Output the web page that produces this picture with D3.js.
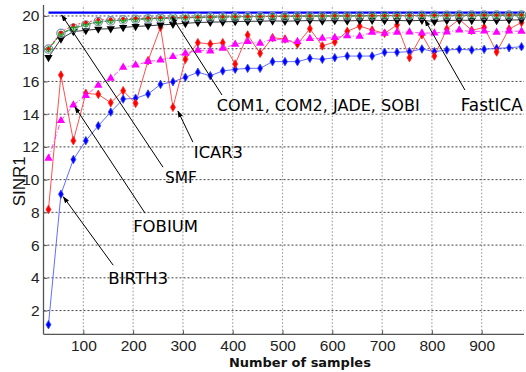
<!DOCTYPE html>
<html><head><meta charset="utf-8">
<script src="https://cdn.jsdelivr.net/npm/d3@7"></script>
<style>
html,body{margin:0;padding:0;background:#fff;}
svg{display:block;}
</style></head>
<body>
<svg id="chart" width="526" height="372"></svg>
<script>
// ---------------- DATA ----------------
const samples = [30,55,80,105,130,155,180,205,230,255,280,305,330,355,380,405,430,455,480,505,530,555,580,605,630,655,680,705,730,755,780,805,830,855,880,905,930,955,980];
const birth3 = [1.14,9.11,11.23,12.38,13.29,14.13,14.92,14.97,15.23,15.82,15.98,16.25,16.56,16.35,16.64,16.74,16.8,16.8,17.21,17.21,17.21,17.41,17.35,17.45,17.55,17.55,17.55,17.78,17.78,17.82,17.98,17.82,17.92,17.96,17.92,17.96,18.02,18.06,18.12];
const icar3 = [8.18,16.39,12.38,15.27,15.21,14.70,15.43,14.66,17.27,19.31,14.42,17.35,18.37,18.29,18.37,17.06,18.84,17.72,18.67,18.59,18.28,19.22,18.17,18.41,19.06,19.38,19.14,18.94,19.45,17.45,18.85,17.55,19.2,19.8,19.12,19.3,17.8,19.2,19.6];
const smf = [11.3,13.6,14.56,15.13,15.76,16.19,16.86,17.0,17.21,17.31,17.51,17.72,17.9,17.86,18.02,18.27,18.43,18.33,18.6,18.52,18.43,18.62,18.64,18.68,18.78,18.75,19.0,18.94,19.0,19.02,18.95,18.96,19.02,19.14,19.04,19.08,19.0,19.08,19.06];
const fastica = [17.47,18.6,19.05,19.12,19.2,19.22,19.3,19.36,19.4,19.45,19.5,19.55,19.6,19.62,19.64,19.66,19.67,19.68,19.7,19.68,19.7,19.72,19.7,19.72,19.7,19.72,19.74,19.72,19.73,19.7,19.74,19.66,19.72,19.74,19.73,19.74,19.72,19.75,19.76];
const com1 = [17.98,18.94,19.25,19.45,19.66,19.7,19.76,19.8,19.83,19.86,19.88,19.9,19.92,19.93,19.94,19.95,19.96,19.97,19.98,19.98,19.99,20.0,20.0,20.01,20.01,20.02,20.02,20.03,20.03,20.03,20.04,20.04,20.04,20.05,20.05,20.05,20.05,20.06,20.06];
const com2 = [17.96,18.9,19.3,19.5,19.62,19.72,19.74,19.82,19.84,19.85,19.87,19.9,19.91,19.92,19.94,19.94,19.95,19.96,19.97,19.98,19.98,19.99,20.0,20.0,20.0,20.01,20.02,20.02,20.02,20.03,20.03,20.03,20.04,20.04,20.04,20.05,20.05,20.05,20.05];
const jade = [18.0,19.0,19.45,19.6,19.78,19.8,19.84,19.86,19.88,19.9,19.9,19.92,19.93,19.94,19.95,19.96,19.97,19.97,19.98,19.99,20.0,20.0,20.0,20.01,20.01,20.02,20.02,20.02,20.03,20.03,20.03,20.04,20.04,20.04,20.05,20.05,20.05,20.06,20.06];
const sobi = [17.97,18.92,19.22,19.48,19.64,19.7,19.75,19.79,19.82,19.85,19.87,19.89,19.91,19.92,19.93,19.94,19.95,19.96,19.97,19.97,19.98,19.99,19.99,20.0,20.0,20.01,20.01,20.02,20.02,20.02,20.03,20.03,20.03,20.04,20.04,20.04,20.04,20.05,20.05];
const boundX = [30, 985];
const boundY = [20.2, 20.2];
const xTicks = [100,200,300,400,500,600,700,800,900];
const yTicks = [2,4,6,8,10,12,14,16,18,20];
const xLabel = "Number of samples";
const yLabel = "SINR1";
// annotations: label, arrow head (x,y), arrow tail (x,y), label anchor (x,y) in data units
const annoLabels = ["COM1, COM2, JADE, SOBI","FastICA","ICAR3","SMF","FOBIUM","BIRTH3"];
const annoHead = [[278,19.94],[786,19.76],[290,14.19],[56.5,20.06],[83,14.45],[59.8,8.95]];
const annoTail = [[378.5,15.17],[866.5,15.47],[320,12.29],[260,10.76],[224,7.95],[160,4.77]];
const annoPos  = [[368,14.56],[858,14.56],[322,11.68],[264,10.15],[200,7.16],[150,3.98]];
const annoWidth = [203,62,49,32,65,60];

// ---------------- LAYOUT ----------------
const W = 526, H = 372;
const margin = {left:43.5, top:5, right:2, bottom:37.7};
const svg = d3.select("#chart");
const x = d3.scaleLinear().domain([20,985]).range([margin.left, W-margin.right]);
const y = d3.scaleLinear().domain([0.55,20.67]).range([H-margin.bottom, margin.top]);
const tickFont = "'Liberation Sans', Arial, sans-serif";
const annoFont = "'DejaVu Sans', 'Noto Sans', sans-serif";

// grid
const g = svg.append("g");
g.selectAll(".vgrid").data(xTicks).join("line")
  .attr("x1",d=>x(d)).attr("x2",d=>x(d))
  .attr("y1",y.range()[0]).attr("y2",y.range()[1])
  .attr("stroke","#9a9a9a").attr("stroke-width",1.1).attr("stroke-dasharray","1.5,2");
g.selectAll(".hgrid").data(yTicks).join("line")
  .attr("x1",x.range()[0]).attr("x2",x.range()[1])
  .attr("y1",d=>y(d)).attr("y2",d=>y(d))
  .attr("stroke","#444").attr("stroke-width",1).attr("stroke-dasharray","2,2");

// axes
const xAxis = d3.axisBottom(x).tickValues(xTicks).tickSize(-4).tickPadding(6).tickFormat(d3.format("d"));
const yAxis = d3.axisLeft(y).tickValues(yTicks).tickSize(-4).tickPadding(4).tickFormat(d3.format("d"));
const gx = svg.append("g").attr("transform",`translate(0,${y.range()[0]})`).call(xAxis);
const gy = svg.append("g").attr("transform",`translate(${x.range()[0]},0)`).call(yAxis);
[gx,gy].forEach(a=>{
  a.select(".domain").attr("stroke","#555").attr("stroke-width",1.3);
  a.selectAll(".tick line").attr("stroke","#555");
  a.selectAll(".tick text").attr("font-family",tickFont).attr("font-size",15.5).attr("fill","#222");
});
gx.select(".domain").attr("d",`M${x.range()[0]},0H${x.range()[1]}`);
gy.select(".domain").attr("d",`M0,${y.range()[0]}V${y.range()[1]}`);

// axis labels
svg.append("text").text(yLabel)
  .attr("transform",`translate(25,${y(9.9)}) rotate(-90)`)
  .attr("text-anchor","middle").attr("font-family",tickFont).attr("font-size",17).attr("fill","#111");
const xl = svg.append("text").text(xLabel)
  .attr("x",x(535)).attr("y",H-5).attr("text-anchor","middle")
  .attr("font-family",annoFont).attr("font-weight","bold").attr("font-size",14).attr("fill","#111");
function fit(t, w){ const l=t.node().getComputedTextLength(); const fs=+t.attr("font-size"); t.attr("font-size",fs*w/l); }
fit(xl,142);

// series
const pts = vals => samples.map((s,i)=>[s,vals[i]]);
const line = d3.line().x(d=>x(d[0])).y(d=>y(d[1]));
const plot = svg.append("g");
function drawLine(vals,color,dash,width,op){
  plot.append("path").datum(pts(vals)).attr("d",line).attr("fill","none")
    .attr("stroke",color).attr("stroke-width",width||1).attr("stroke-dasharray",dash||null)
    .attr("stroke-opacity",op==null?1:op);
}
// blue bound line
plot.append("path").datum(boundX.map((v,i)=>[v,boundY[i]])).attr("d",line)
  .attr("fill","none").attr("stroke","#0000ff").attr("stroke-width",2.2);

drawLine(birth3,"#4455ff",null,1,0.85);
drawLine(icar3,"#ff3030",null,1,0.85);
drawLine(smf,"#ff33ff","5,2,1,2",1,0.9);
drawLine(fastica,"#222",null,1,0.9);
drawLine(com1,"#8a8a8a",null,1,0.8);
drawLine(sobi,"#2a9a2a","4,2",1,0.9);
drawLine(com2,"#2a9a2a","4,2",1,0.9);
drawLine(jade,"#ff2020","2,2",1,0.9);

const diamond = d3.symbol().type(d3.symbolDiamond).size(21)();
const tri = d3.symbol().type(d3.symbolTriangle).size(30)();
function drawSym(vals, path, fill, stroke, rot){
  plot.append("g").selectAll("path").data(pts(vals)).join("path")
    .attr("d",path).attr("transform",d=>`translate(${x(d[0])},${y(d[1])})${rot?` rotate(${rot})`:""}`)
    .attr("fill",fill).attr("stroke",stroke||"none").attr("stroke-width",0.8);
}
drawSym(birth3, diamond, "#0000ff", "#3344ff");
drawSym(icar3, diamond, "#ff0000", "#ff2222");
drawSym(smf, tri, "#ff00ff", null);
drawSym(fastica, tri, "#000", null, 180);
// COM group
plot.append("g").selectAll("circle").data(pts(com1)).join("circle")
  .attr("cx",d=>x(d[0])).attr("cy",d=>y(d[1])).attr("r",4.2)
  .attr("fill","none").attr("stroke","#7890aa").attr("stroke-width",1.2);
plot.append("g").selectAll("circle").data(pts(sobi)).join("circle")
  .attr("cx",d=>x(d[0])).attr("cy",d=>y(d[1])).attr("r",2.6)
  .attr("fill","#9fd09f").attr("stroke","#2a8a2a").attr("stroke-width",0.8);
plot.append("g").selectAll("path").data(pts(com2)).join("path")
  .attr("d","M-3,0H3M0,-3V3").attr("transform",d=>`translate(${x(d[0])},${y(d[1])})`)
  .attr("stroke","#119911").attr("stroke-width",1.1).attr("fill","none");
plot.append("g").selectAll("circle").data(pts(jade)).join("circle")
  .attr("cx",d=>x(d[0])).attr("cy",d=>y(d[1])).attr("r",1.7).attr("fill","#ff0000");

// annotations
const defs = svg.append("defs");
defs.append("marker").attr("id","ah").attr("viewBox","0 0 10 10").attr("refX",9).attr("refY",5)
  .attr("markerWidth",7).attr("markerHeight",7).attr("markerUnits","userSpaceOnUse").attr("orient","auto")
  .append("path").attr("d","M0,1.5L10,5L0,8.5Z").attr("fill","#000");
const ann = svg.append("g");
annoLabels.forEach((lab,i)=>{
  ann.append("line")
    .attr("x1",x(annoTail[i][0])).attr("y1",y(annoTail[i][1]))
    .attr("x2",x(annoHead[i][0])).attr("y2",y(annoHead[i][1]))
    .attr("stroke","#000").attr("stroke-width",1).attr("marker-end","url(#ah)");
  const t = ann.append("text").text(lab)
    .attr("x",x(annoPos[i][0])).attr("y",y(annoPos[i][1])).attr("dy","0.36em")
    .attr("font-family",annoFont).attr("font-size",14).attr("fill","#000");
  fit(t, annoWidth[i]);
});
</script>
</body></html>
